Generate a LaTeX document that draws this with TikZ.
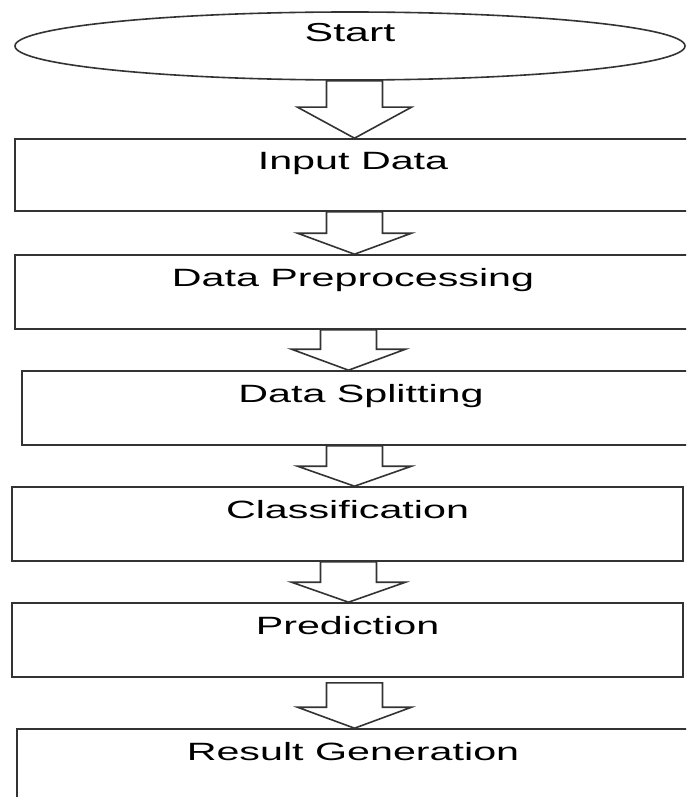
\documentclass[tikz,border=0pt]{standalone}
\usepackage{fontspec}
\setmainfont{Liberation Sans}
\usepackage{tikz}
\usetikzlibrary{
  shapes.geometric,
  calc
}
\definecolor{LineGray}{HTML}{333333}
% wide lettering, as in the scan
\newcommand{\widetext}[1]{\scalebox{1.65}[1]{#1}}
% Block arrow from one node to the next:
% [gap]{from}{to}{axis coordinate}{head length}
\newcommand{\flow}[5][0]{%
  \draw[blk] ($(#2.south -| #4)+(-28,#1)$) -- ($(#3.north -| #4)+(-28,-#5)$)
    -- ($(#3.north -| #4)+(-57,-#5)$) -- (#3.north -| #4)
    -- ($(#3.north -| #4)+(57,-#5)$) -- ($(#3.north -| #4)+(28,-#5)$)
    -- ($(#2.south -| #4)+(28,#1)$) -- cycle;}
\tikzset{
  % Process box, label sits in the upper part
  stepbox/.style={
    rectangle, draw=LineGray, line width=1.6pt,
    inner sep=0pt, minimum height=#1,
    text height=10pt, text depth=21pt,
    font=\fontsize{25}{30}\selectfont
  },
  % Start ellipse
  startnode/.style={
    ellipse, draw=LineGray, line width=1.6pt,
    inner sep=0pt, minimum width=670pt, minimum height=68pt,
    text height=10pt, text depth=19pt,
    font=\fontsize{26}{30}\selectfont
  },
  % Hollow block arrow
  blk/.style={
    draw=LineGray, fill=white, line width=1.6pt, line join=miter
  }
}
\begin{document}
\begin{tikzpicture}[x=1pt, y=-1pt]

  \useasboundingbox (0,0) rectangle (686,797);
  \clip (0,0) rectangle (686,797);

  % Start
  \node[startnode] (start) at (350,46) {\widetext{Start}};

  % Steps
  \node[stepbox=72pt, minimum width=676pt] (inp) at (353,175) {\widetext{Input Data}};
  \node[stepbox=74pt, minimum width=676pt] (prep) at (353,292) {\widetext{Data Preprocessing}};
  \node[stepbox=74pt, minimum width=678pt] (split) at (361,408) {\widetext{Data Splitting}};
  \node[stepbox=74pt, minimum width=671pt] (cls) at (347.5,524) {\widetext{Classification}};
  \node[stepbox=74pt, minimum width=671pt] (pred) at (347.5,640) {\widetext{Prediction}};
  \node[stepbox=74pt, minimum width=672pt] (res) at (353,766) {\widetext{Result Generation}};

  % Arrow axes
  \coordinate (colA) at (354.5,0);
  \coordinate (colB) at (348.5,0);

  % Arrows
  \flow{start}{inp}{colA}{31}
  \flow{inp}{prep}{colA}{21}
  \flow{prep}{split}{colB}{21}
  \flow{split}{cls}{colA}{20}
  \flow{cls}{pred}{colB}{20}
  \flow[5]{pred}{res}{colA}{21}

\end{tikzpicture}
\end{document}
